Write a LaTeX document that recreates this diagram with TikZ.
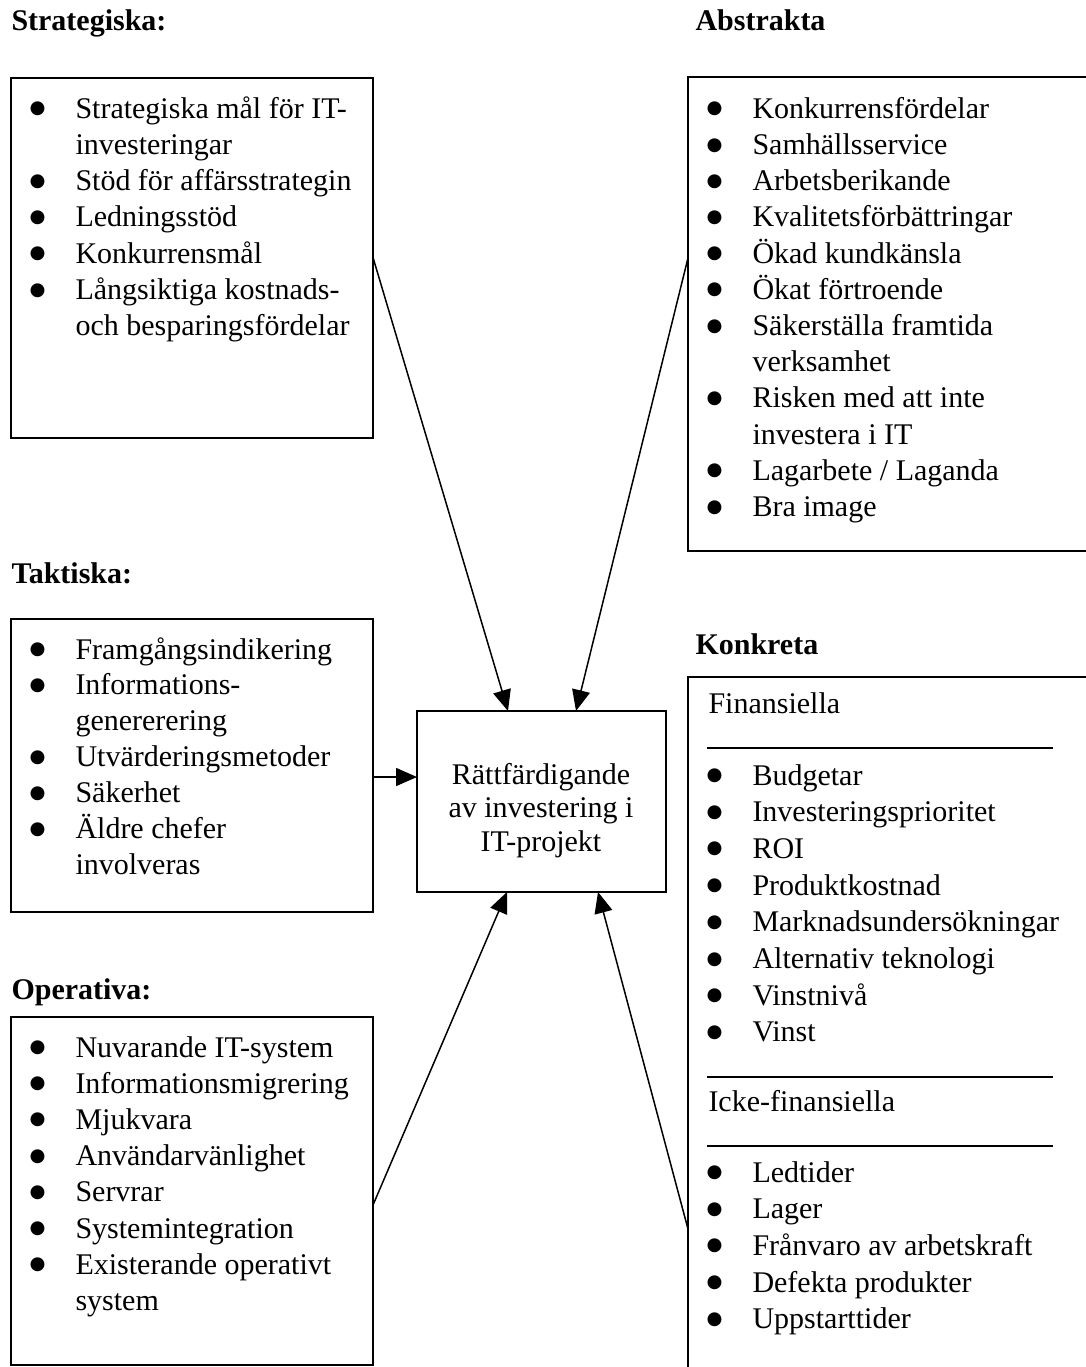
\documentclass[tikz,border=0pt]{standalone}
\usepackage{fontspec}
\setmainfont{Liberation Serif}
\newfontfamily\markfont{DejaVu Sans}
\usetikzlibrary{calc,arrows.meta}

% round bullet centred 15.2pt to the left of a list line
\newcommand\listbullet{\llap{\makebox[0pt][c]{\raisebox{1.8pt}{\fontsize{7.3pt}{8pt}\markfont ●}}\hspace{15.2pt}}}

% place a list: #1 name prefix, #2 text x, #3 first baseline, #4 line pitch,
% #5 entries as flag/text (flag 1 = bulleted line, 0 = continuation line)
\newcommand\placelist[5]{%
  \foreach \k/\t [count=\i] in {#5} {
    \node[entry] (#1\i) at (#2, {#3+(\i-1)*#4}) {\ifnum\k=1 \listbullet\fi\t};
  }}

\begin{document}
\begin{tikzpicture}[x=0.4pt, y=-0.4pt,
  box/.style={draw, line width=0.8pt, rectangle, anchor=north west,
    inner sep=0pt, outer sep=0pt},
  boxsize/.style 2 args={minimum width=#1*0.4pt, minimum height=#2*0.4pt},
  heading/.style={anchor=base west, inner sep=0pt,
    font=\fontsize{12pt}{14pt}\selectfont\bfseries},
  entry/.style={anchor=base west, inner sep=0pt,
    font=\fontsize{12pt}{14pt}\selectfont},
  centretext/.style={anchor=base, inner sep=0pt,
    font=\fontsize{12pt}{14pt}\selectfont},
  link/.style={line width=0.6pt, -{Triangle[length=8.4pt,width=7.2pt]}},
  divider/.style={line width=0.75pt}
]
\useasboundingbox (0,0) rectangle (1086,1367);
\clip (0,0) rectangle (1086,1367);

% headings
\node[heading] (hstrat) at (11,30)   {Strategiska:};
\node[heading] (habs)   at (695,30)  {Abstrakta};
\node[heading] (htakt)  at (11,583)  {Taktiska:};
\node[heading] (hkonk)  at (695,654) {Konkreta};
\node[heading] (hoper)  at (11,999)  {Operativa:};

% boxes
\node[box, boxsize={362}{360}] (strat) at (11,77.5) {};
\node[box, boxsize={430}{474}] (abs)   at (688,77) {};
\node[box, boxsize={362}{293}] (takt)  at (11,619) {};
\node[box, boxsize={249}{181}] (mid)   at (417,711) {};
\node[box, boxsize={362}{348}] (oper)  at (11,1017) {};
\node[box, boxsize={430}{740}] (konk)  at (688,677) {};

% centre box text
\node[centretext] (m1) at (541,784)   {Rättfärdigande};
\node[centretext] (m2) at (541,817.5) {av investering i};
\node[centretext] (m3) at (541,851)   {IT-projekt};

% lists
\placelist{s}{75}{118}{36.3}{1/Strategiska mål för IT-, 0/investeringar,
  1/Stöd för affärsstrategin, 1/Ledningsstöd, 1/Konkurrensmål,
  1/Långsiktiga kostnads-, 0/och besparingsfördelar}

\placelist{a}{752}{118.3}{36.2}{1/Konkurrensfördelar, 1/Samhällsservice,
  1/Arbetsberikande, 1/Kvalitetsförbättringar, 1/Ökad kundkänsla,
  1/Ökat förtroende, 1/Säkerställa framtida, 0/verksamhet,
  1/Risken med att inte, 0/investera i IT, 1/{Lagarbete / Laganda},
  1/Bra image}

\placelist{t}{75}{659}{35.9}{1/Framgångsindikering, 1/Informations-,
  0/genererering, 1/Utvärderingsmetoder, 1/Säkerhet, 1/Äldre chefer,
  0/involveras}

\placelist{o}{75}{1057}{36.2}{1/Nuvarande IT-system, 1/Informationsmigrering,
  1/Mjukvara, 1/Användarvänlighet, 1/Servrar, 1/Systemintegration,
  1/Existerande operativt, 0/system}

% concrete benefits: financial and non-financial groups
\node[entry] (kfin) at (708,713) {Finansiella};
\draw[divider] (707,748) -- (1053,748);
\placelist{kf}{752}{785}{36.7}{1/Budgetar, 1/Investeringsprioritet, 1/ROI,
  1/Produktkostnad, 1/Marknadsundersökningar, 1/Alternativ teknologi,
  1/Vinstnivå, 1/Vinst}
\draw[divider] (707,1077) -- (1053,1077);
\node[entry] (kicke) at (708,1111) {Icke-finansiella};
\draw[divider] (707,1146) -- (1053,1146);
\placelist{kn}{752}{1182}{36.7}{1/Ledtider, 1/Lager,
  1/Frånvaro av arbetskraft, 1/Defekta produkter, 1/Uppstarttider}

% connectors into the centre box
\draw[link] (strat.east) -- ($(mid.north west)+(91,0)$);
\draw[link] ($(abs.north west)+(0,181)$) -- ($(mid.north west)+(159,0)$);
\draw[link] ($(takt.north east)+(0,158)$) -- ($(mid.north west)+(0,66)$);
\draw[link] ($(oper.north east)+(0,188)$) -- ($(mid.south west)+(90,0)$);
\draw[link] ($(konk.north west)+(0,552)$) -- ($(mid.south west)+(181,0)$);
\end{tikzpicture}
\end{document}
